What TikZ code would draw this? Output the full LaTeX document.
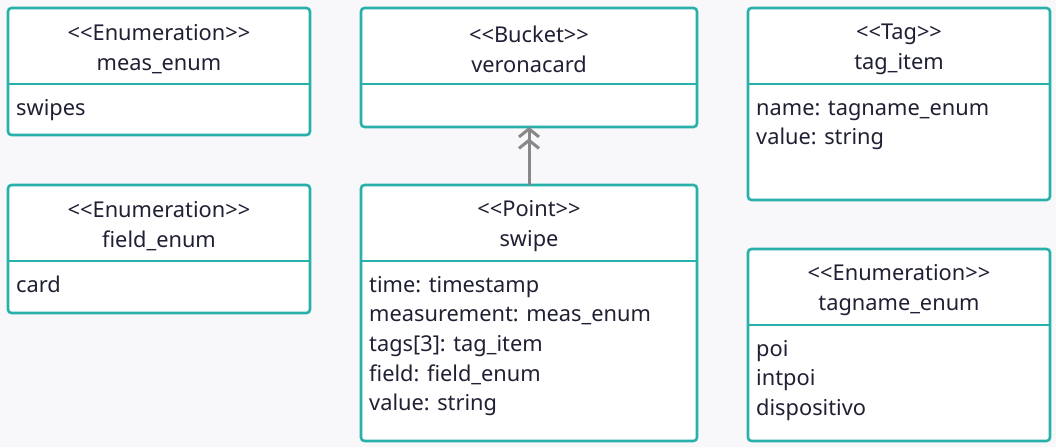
\documentclass[tikz,border=0pt]{standalone}
\usepackage{fontspec}
\setmainfont{Noto Sans}
\usetikzlibrary{arrows.meta}
\definecolor{bg}{RGB}{248,248,251}
\definecolor{umlteal}{RGB}{40,176,170}
\definecolor{ink}{RGB}{32,32,52}
\definecolor{linkgrey}{RGB}{136,136,136}
\tikzset{
    umlbox/.style={draw=umlteal, line width=2.6pt, rounded corners=3.5pt, fill=white,
        anchor=north west, inner sep=0pt, outer sep=0pt},
    divider/.style={draw=umlteal, line width=2.6pt},
    head/.style={align=center, inner sep=0pt},
    item/.style={anchor=base west, inner sep=0pt}
}

\begin{document}
\begin{tikzpicture}[x=1pt, y=-1pt, text=ink, font=\fontsize{21.8}{29.7}\selectfont]
    \fill [bg] (0, 0) rectangle (1056, 447);
    % left column
    \node [umlbox, minimum width=302pt, minimum height=127pt] (meas) at (8, 8) {};
    \draw [divider] ([yshift=-76pt]meas.north west) -- ([yshift=-76pt]meas.north east);
    \node [head] (meas-h) at ([yshift=-41pt]meas.north) {{<}{<}Enumeration{>}{>}\\meas\_enum};
    \node [item] (meas-1) at ([xshift=8pt, yshift=-107pt]meas.north west) {swipes};
    \node [umlbox, minimum width=302pt, minimum height=128pt] (field) at (8, 185) {};
    \draw [divider] ([yshift=-76pt]field.north west) -- ([yshift=-76pt]field.north east);
    \node [head] (field-h) at ([yshift=-41pt]field.north) {{<}{<}Enumeration{>}{>}\\field\_enum};
    \node [item] (field-1) at ([xshift=8pt, yshift=-107pt]field.north west) {card};
    % middle column
    \node [umlbox, minimum width=336pt, minimum height=119pt] (bucket) at (361, 8) {};
    \draw [divider] ([yshift=-76pt]bucket.north west) -- ([yshift=-76pt]bucket.north east);
    \node [head] (bucket-h) at ([yshift=-41pt]bucket.north) {{<}{<}Bucket{>}{>}\\veronacard};
    \node [umlbox, minimum width=336pt, minimum height=256pt] (swipe) at (361, 185) {};
    \draw [divider] ([yshift=-76pt]swipe.north west) -- ([yshift=-76pt]swipe.north east);
    \node [head] (swipe-h) at ([yshift=-41pt]swipe.north) {{<}{<}Point{>}{>}\\swipe};
    \foreach \l [count=\i] in {time: timestamp, measurement: meas\_enum, tags[3]: tag\_item,
        field: field\_enum, value: string}
    \node [item] (swipe-\i) at ([xshift=8pt, yshift={-107-(\i-1)*29.7}]swipe.north west) {\l};
    \draw [linkgrey, line width=3pt,
        -{Straight Barb[length=8pt, width=20pt] Straight Barb[length=8pt, width=20pt]}]
        (swipe.north) -- (bucket.south);
    % right column
    \node [umlbox, minimum width=302pt, minimum height=192pt] (tag) at (748, 8) {};
    \draw [divider] ([yshift=-76pt]tag.north west) -- ([yshift=-76pt]tag.north east);
    \node [head] (tag-h) at ([yshift=-41pt]tag.north) {{<}{<}Tag{>}{>}\\tag\_item};
    \foreach \l [count=\i] in {name: tagname\_enum, value: string}
    \node [item] (tag-\i) at ([xshift=8pt, yshift={-107-(\i-1)*29.7}]tag.north west) {\l};
    \node [umlbox, minimum width=302pt, minimum height=192pt] (tagname) at (748, 249) {};
    \draw [divider] ([yshift=-76pt]tagname.north west) -- ([yshift=-76pt]tagname.north east);
    \node [head] (tagname-h) at ([yshift=-41pt]tagname.north) {{<}{<}Enumeration{>}{>}\\tagname\_enum};
    \foreach \l [count=\i] in {poi, intpoi, dispositivo}
    \node [item] (tagname-\i) at ([xshift=8pt, yshift={-107-(\i-1)*29.7}]tagname.north west) {\l};
\end{tikzpicture}
\end{document}
